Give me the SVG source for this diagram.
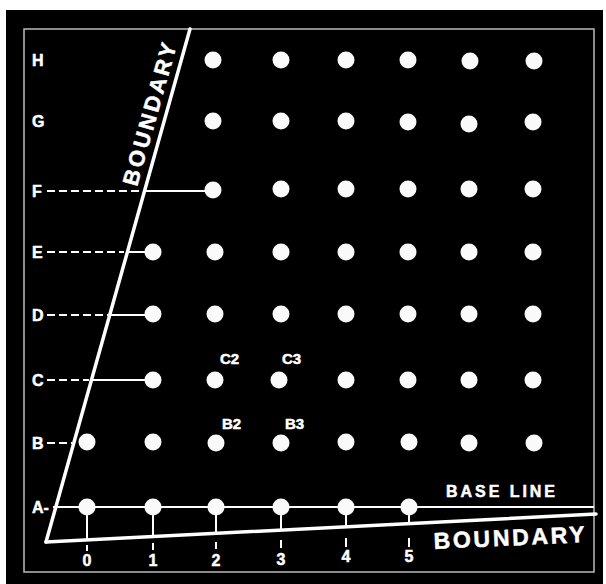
<svg xmlns="http://www.w3.org/2000/svg" width="606" height="584" viewBox="0 0 606 584">
<style>
.lbl{font-family:"Liberation Sans",Arial,sans-serif;font-weight:bold;fill:#fff;stroke:#fff;stroke-width:0.5}
.row{font-size:16px}
.num{font-size:16px;text-anchor:middle}
.pt{font-size:15px}
.dot{fill:#fafafa}
.ln{stroke:#fff;stroke-width:2;fill:none}
.dash{stroke:#fff;stroke-width:2;fill:none;stroke-dasharray:8 4}
.bd{stroke:#fff;stroke-width:3.5;fill:none;stroke-linecap:round}
</style>
<rect x="0" y="0" width="606" height="584" fill="#fff"/>
<rect x="6" y="10" width="597" height="574" fill="#000"/>
<rect x="24" y="29" width="570" height="543" fill="none" stroke="#bbb" stroke-width="1.5"/>

<g id="connectors">
  <line class="bd" x1="46" y1="542" x2="190" y2="29"/>
  <line class="bd" x1="46" y1="542" x2="596" y2="514"/>
  <line class="ln" x1="53" y1="507" x2="594" y2="507"/>
  <line class="dash" x1="47" y1="191" x2="143" y2="191"/>
  <line class="ln" x1="145" y1="191" x2="213" y2="191"/>
  <line class="dash" x1="47" y1="252" x2="124" y2="252"/>
  <line class="ln" x1="127" y1="252" x2="153" y2="252"/>
  <line class="dash" x1="47" y1="315" x2="108" y2="315"/>
  <line class="ln" x1="110" y1="315" x2="153" y2="315"/>
  <line class="dash" x1="47" y1="380" x2="89" y2="380"/>
  <line class="ln" x1="91" y1="380" x2="153" y2="380"/>
  <line class="dash" x1="47" y1="443" x2="72" y2="443"/>
  <line class="ln" x1="87" y1="507" x2="87" y2="540"/>
  <line class="ln" x1="153" y1="507" x2="153" y2="537"/>
  <line class="ln" x1="216" y1="507" x2="216" y2="534"/>
  <line class="ln" x1="281" y1="507" x2="281" y2="530"/>
  <line class="ln" x1="346" y1="507" x2="346" y2="527"/>
  <line class="ln" x1="409" y1="507" x2="409" y2="524"/>
  <line class="ln" x1="87" y1="545" x2="87" y2="551"/>
  <line class="ln" x1="153" y1="543" x2="153" y2="550"/>
  <line class="ln" x1="216" y1="542" x2="216" y2="549"/>
  <line class="ln" x1="281" y1="540" x2="281" y2="548"/>
  <line class="ln" x1="346" y1="538" x2="346" y2="547"/>
  <line class="ln" x1="409" y1="538" x2="409" y2="547"/>
</g>

<g id="labels">
  <text class="lbl row" x="32" y="66">H</text>
  <text class="lbl row" x="32" y="127">G</text>
  <text class="lbl row" x="32" y="197">F</text>
  <text class="lbl row" x="32" y="258">E</text>
  <text class="lbl row" x="32" y="321">D</text>
  <text class="lbl row" x="32" y="386">C</text>
  <text class="lbl row" x="32" y="449">B</text>
  <text class="lbl row" x="32" y="513">A-</text>
  <text class="lbl num" x="87" y="566">0</text>
  <text class="lbl num" x="153" y="566">1</text>
  <text class="lbl num" x="216" y="566">2</text>
  <text class="lbl num" x="281" y="565">3</text>
  <text class="lbl num" x="346" y="562">4</text>
  <text class="lbl num" x="409" y="562">5</text>
  <text class="lbl pt" x="220" y="364">C2</text>
  <text class="lbl pt" x="282" y="364">C3</text>
  <text class="lbl pt" x="222" y="429">B2</text>
  <text class="lbl pt" x="285" y="429">B3</text>
  <text class="lbl" x="446" y="497" font-size="16" textLength="109" lengthAdjust="spacing">BASE LINE</text>
  <text class="lbl" x="434" y="549" font-size="23" textLength="151" lengthAdjust="spacing" transform="rotate(-2.6 434 549)">BOUNDARY</text>
  <text class="lbl" x="137" y="187" font-size="22" textLength="147" lengthAdjust="spacing" transform="rotate(-74.3 137 187)">BOUNDARY</text>
</g>

<g id="row-H">
  <g id="H2"><circle class="dot" cx="213" cy="60" r="8.5"/></g>
  <g id="H3"><circle class="dot" cx="281" cy="60" r="8.5"/></g>
  <g id="H4"><circle class="dot" cx="346" cy="60" r="8.5"/></g>
  <g id="H5"><circle class="dot" cx="408" cy="60" r="8.5"/></g>
  <g id="H6"><circle class="dot" cx="470" cy="61" r="8.5"/></g>
  <g id="H7"><circle class="dot" cx="534" cy="61" r="8.5"/></g>
</g>
<g id="row-G">
  <g id="G2"><circle class="dot" cx="213" cy="121" r="8.5"/></g>
  <g id="G3"><circle class="dot" cx="281" cy="121" r="8.5"/></g>
  <g id="G4"><circle class="dot" cx="346" cy="121" r="8.5"/></g>
  <g id="G5"><circle class="dot" cx="408" cy="122" r="8.5"/></g>
  <g id="G6"><circle class="dot" cx="469" cy="124" r="8.5"/></g>
  <g id="G7"><circle class="dot" cx="533" cy="122" r="8.5"/></g>
</g>
<g id="row-F">
  <g id="F2"><circle class="dot" cx="213" cy="190" r="8.5"/></g>
  <g id="F3"><circle class="dot" cx="281" cy="189" r="8.5"/></g>
  <g id="F4"><circle class="dot" cx="346" cy="189" r="8.5"/></g>
  <g id="F5"><circle class="dot" cx="408" cy="189" r="8.5"/></g>
  <g id="F6"><circle class="dot" cx="469" cy="189" r="8.5"/></g>
  <g id="F7"><circle class="dot" cx="533" cy="189" r="8.5"/></g>
</g>
<g id="row-E">
  <g id="E1"><circle class="dot" cx="153" cy="252" r="8.5"/></g>
  <g id="E2"><circle class="dot" cx="215" cy="252" r="8.5"/></g>
  <g id="E3"><circle class="dot" cx="281" cy="252" r="8.5"/></g>
  <g id="E4"><circle class="dot" cx="346" cy="252" r="8.5"/></g>
  <g id="E5"><circle class="dot" cx="408" cy="252" r="8.5"/></g>
  <g id="E6"><circle class="dot" cx="469" cy="252" r="8.5"/></g>
  <g id="E7"><circle class="dot" cx="533" cy="252" r="8.5"/></g>
</g>
<g id="row-D">
  <g id="D1"><circle class="dot" cx="153" cy="314" r="8.5"/></g>
  <g id="D2"><circle class="dot" cx="215" cy="314" r="8.5"/></g>
  <g id="D3"><circle class="dot" cx="281" cy="314" r="8.5"/></g>
  <g id="D4"><circle class="dot" cx="346" cy="314" r="8.5"/></g>
  <g id="D5"><circle class="dot" cx="408" cy="314" r="8.5"/></g>
  <g id="D6"><circle class="dot" cx="469" cy="314" r="8.5"/></g>
  <g id="D7"><circle class="dot" cx="533" cy="314" r="8.5"/></g>
</g>
<g id="row-C">
  <g id="C1"><circle class="dot" cx="153" cy="380" r="8.5"/></g>
  <g id="C2"><circle class="dot" cx="215" cy="380" r="8.5"/></g>
  <g id="C3"><circle class="dot" cx="279" cy="380" r="8.5"/></g>
  <g id="C4"><circle class="dot" cx="346" cy="380" r="8.5"/></g>
  <g id="C5"><circle class="dot" cx="408" cy="380" r="8.5"/></g>
  <g id="C6"><circle class="dot" cx="469" cy="380" r="8.5"/></g>
  <g id="C7"><circle class="dot" cx="533" cy="380" r="8.5"/></g>
</g>
<g id="row-B">
  <g id="B0"><circle class="dot" cx="87" cy="442" r="8.5"/></g>
  <g id="B1"><circle class="dot" cx="153" cy="442" r="8.5"/></g>
  <g id="B2"><circle class="dot" cx="216" cy="443" r="8.5"/></g>
  <g id="B3"><circle class="dot" cx="281" cy="443" r="8.5"/></g>
  <g id="B4"><circle class="dot" cx="346" cy="442" r="8.5"/></g>
  <g id="B5"><circle class="dot" cx="409" cy="442" r="8.5"/></g>
  <g id="B6"><circle class="dot" cx="469" cy="443" r="8.5"/></g>
  <g id="B7"><circle class="dot" cx="534" cy="443" r="8.5"/></g>
</g>
<g id="row-A">
  <g id="A0"><circle class="dot" cx="87" cy="507" r="8.5"/></g>
  <g id="A1"><circle class="dot" cx="153" cy="507" r="8.5"/></g>
  <g id="A2"><circle class="dot" cx="216" cy="507" r="8.5"/></g>
  <g id="A3"><circle class="dot" cx="281" cy="507" r="8.5"/></g>
  <g id="A4"><circle class="dot" cx="346" cy="507" r="8.5"/></g>
  <g id="A5"><circle class="dot" cx="409" cy="507" r="8.5"/></g>
</g>
</svg>
